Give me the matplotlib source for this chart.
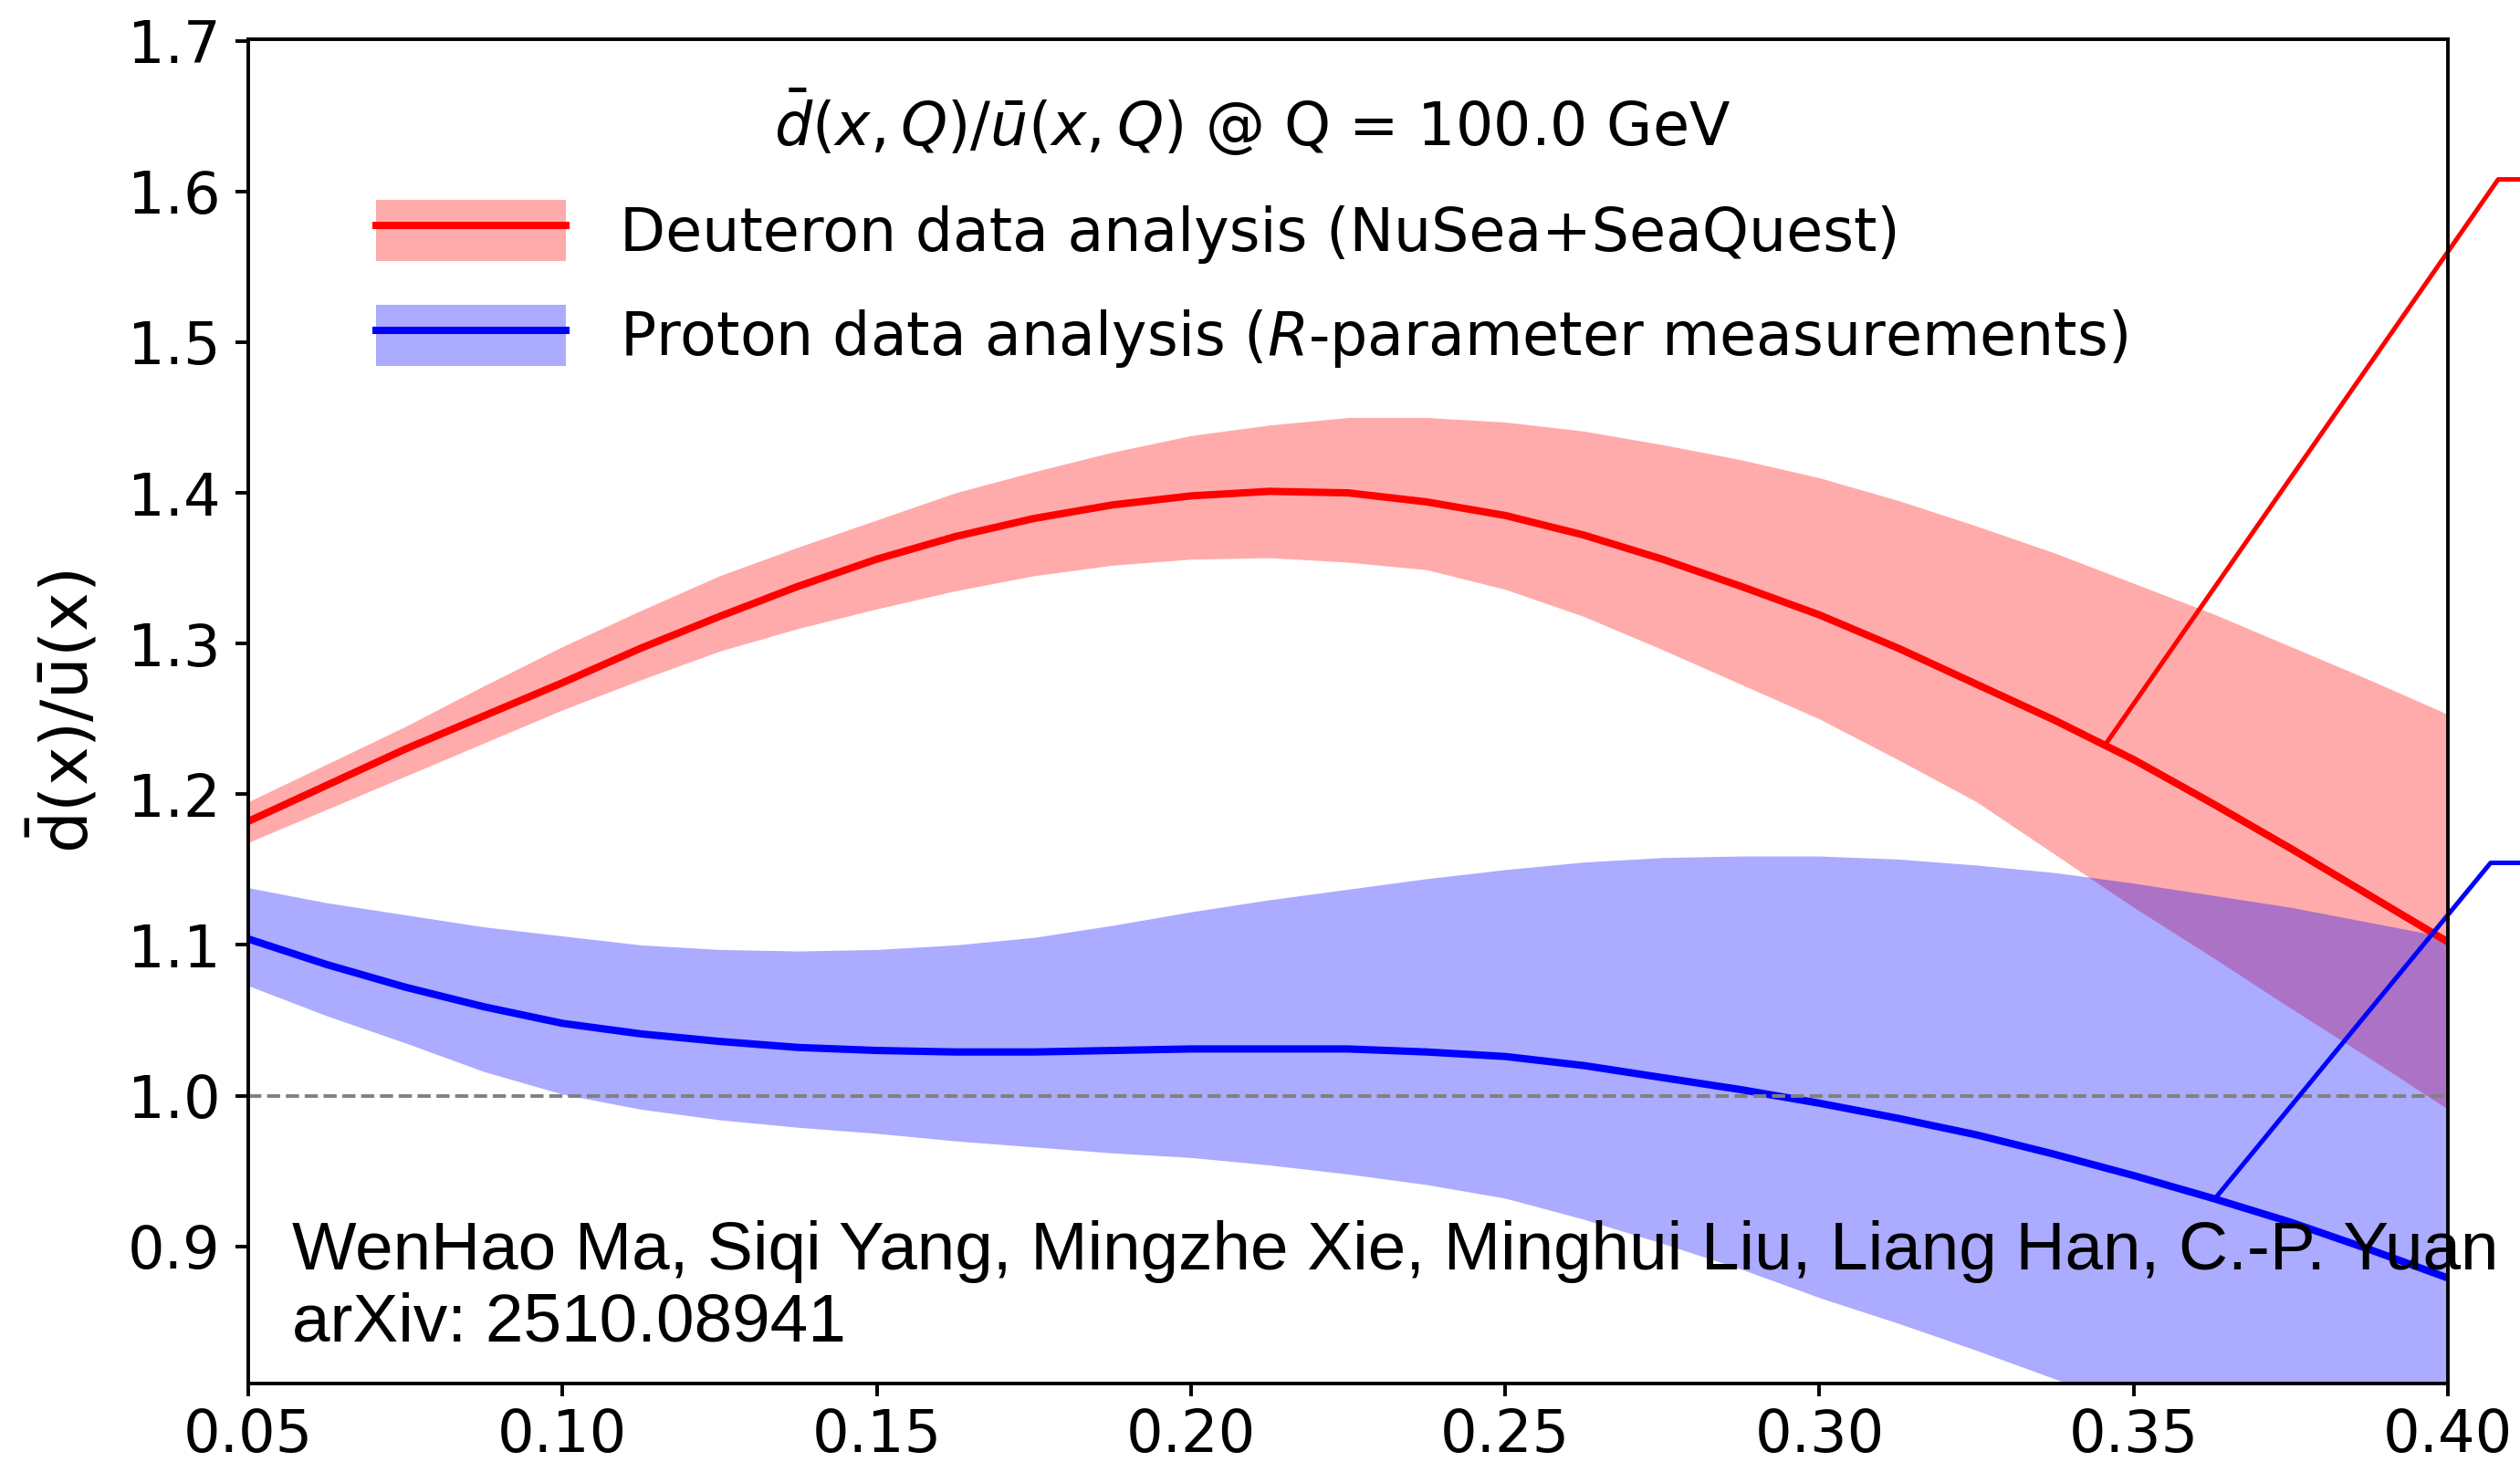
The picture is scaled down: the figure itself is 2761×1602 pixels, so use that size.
import numpy as np
import matplotlib
matplotlib.use('Agg')
import matplotlib.pyplot as plt
from matplotlib.lines import Line2D
from matplotlib.patches import Patch

# x grid and curves
x = [0.05, 0.0625, 0.075, 0.0875, 0.10, 0.1125, 0.125, 0.1375, 0.15, 0.1625,
     0.175, 0.1875, 0.20, 0.2125, 0.225, 0.2375, 0.25, 0.2625, 0.275, 0.2875,
     0.30, 0.3125, 0.325, 0.3375, 0.35, 0.3625, 0.375, 0.3875, 0.40]

# deuteron (NuSea+SeaQuest): central value and band edges
deut_mid = [1.182, 1.206, 1.230, 1.252, 1.274, 1.297, 1.318, 1.338, 1.356, 1.371,
            1.383, 1.392, 1.398, 1.401, 1.400, 1.394, 1.385, 1.372, 1.356, 1.338,
            1.319, 1.297, 1.273, 1.249, 1.223, 1.194, 1.164, 1.133, 1.102]
deut_hi = [1.195, 1.220, 1.245, 1.272, 1.298, 1.322, 1.345, 1.364, 1.382, 1.400,
           1.414, 1.427, 1.438, 1.445, 1.450, 1.450, 1.447, 1.441, 1.432, 1.422,
           1.410, 1.395, 1.378, 1.360, 1.340, 1.320, 1.298, 1.276, 1.253]
deut_lo = [1.168, 1.190, 1.212, 1.234, 1.256, 1.276, 1.295, 1.310, 1.323, 1.335,
           1.345, 1.352, 1.356, 1.357, 1.354, 1.349, 1.336, 1.318, 1.296, 1.273,
           1.250, 1.223, 1.195, 1.160, 1.125, 1.092, 1.058, 1.025, 0.991]

# proton (R-parameter): central value and band edges
prot_mid = [1.104, 1.087, 1.072, 1.059, 1.048, 1.041, 1.036, 1.032, 1.030, 1.029,
            1.029, 1.030, 1.031, 1.031, 1.031, 1.029, 1.026, 1.020, 1.012, 1.004,
            0.995, 0.985, 0.974, 0.961, 0.947, 0.932, 0.916, 0.898, 0.879]
prot_hi = [1.138, 1.128, 1.120, 1.112, 1.106, 1.100, 1.097, 1.096, 1.097, 1.100,
           1.105, 1.113, 1.122, 1.130, 1.137, 1.144, 1.150, 1.155, 1.158, 1.159,
           1.159, 1.157, 1.153, 1.148, 1.141, 1.133, 1.125, 1.115, 1.105]
prot_lo = [1.073, 1.053, 1.035, 1.016, 1.001, 0.991, 0.984, 0.979, 0.975, 0.970,
           0.966, 0.962, 0.959, 0.954, 0.948, 0.941, 0.932, 0.918, 0.902, 0.885,
           0.866, 0.849, 0.831, 0.812, 0.793, 0.772, 0.750, 0.726, 0.700]

# leader lines leaving the plot on the right
red_ptr_x = [0.3455, 0.408, 0.4125]
red_ptr_y = [1.233, 1.608, 1.608]
blue_ptr_x = [0.363, 0.4068, 0.4125]
blue_ptr_y = [0.932, 1.1545, 1.1545]

W, H = 2761, 1602
fig = plt.figure(figsize=(W / 200, H / 200), dpi=200)
ax = fig.add_axes([272 / W, 1 - 1516 / H, (2682 - 272) / W, (1516 - 43) / H])

ax.fill_between(x, deut_lo, deut_hi, color='red', alpha=0.33, lw=0)
ax.fill_between(x, prot_lo, prot_hi, color='blue', alpha=0.33, lw=0)
ax.plot(x, deut_mid, color='red', lw=2.9)
ax.plot(x, prot_mid, color='blue', lw=2.9)
ax.axhline(1.0, color='gray', ls='--', lw=1.4)

ax.plot(red_ptr_x, red_ptr_y, color='red', lw=1.8, clip_on=False)
ax.plot(blue_ptr_x, blue_ptr_y, color='blue', lw=1.8, clip_on=False)

ax.set_xlim(0.05, 0.40)
ax.set_ylim(0.809, 1.701)
ax.set_xticks([0.05, 0.10, 0.15, 0.20, 0.25, 0.30, 0.35, 0.40])
ax.set_xticklabels(['0.05', '0.10', '0.15', '0.20', '0.25', '0.30', '0.35', '0.40'])
ax.set_yticks([0.9, 1.0, 1.1, 1.2, 1.3, 1.4, 1.5, 1.6, 1.7])
ax.tick_params(labelsize=23, length=5, width=1.4, pad=6)
ax.tick_params(axis='x', pad=4.5)
for s in ax.spines.values():
    s.set_linewidth(1.4)
ax.set_ylabel(r'$\bar{\mathrm{d}}(\mathrm{x})/\bar{\mathrm{u}}(\mathrm{x})$', fontsize=26, labelpad=10)

h_red = (Patch(facecolor='red', alpha=0.33, lw=0), Line2D([], [], color='red', lw=2.9))
h_blue = (Patch(facecolor='blue', alpha=0.33, lw=0), Line2D([], [], color='blue', lw=2.9))
leg = ax.legend([h_red, h_blue],
                ['Deuteron data analysis (NuSea+SeaQuest)',
                 r'Proton data analysis ($R$-parameter measurements)'],
                title=r'$\bar{d}(x,Q)/\bar{u}(x,Q)$ @ Q = 100.0 GeV',
                fontsize=23.4, title_fontsize=23.4, frameon=False,
                loc='upper left', bbox_to_anchor=(0.034, 1.004),
                handlelength=3.2, handleheight=1.2, handletextpad=0.9,
                labelspacing=0.7)

fig.text(320 / W, 1 - 1391 / H, 'WenHao Ma, Siqi Yang, Mingzhe Xie, Minghui Liu, Liang Han, C.-P. Yuan',
         fontsize=26.9, family='Liberation Sans', va='baseline')
fig.text(320 / W, 1 - 1470 / H, 'arXiv: 2510.08941',
         fontsize=26.9, family='Liberation Sans', va='baseline')

fig.savefig('out.png', dpi=200)
